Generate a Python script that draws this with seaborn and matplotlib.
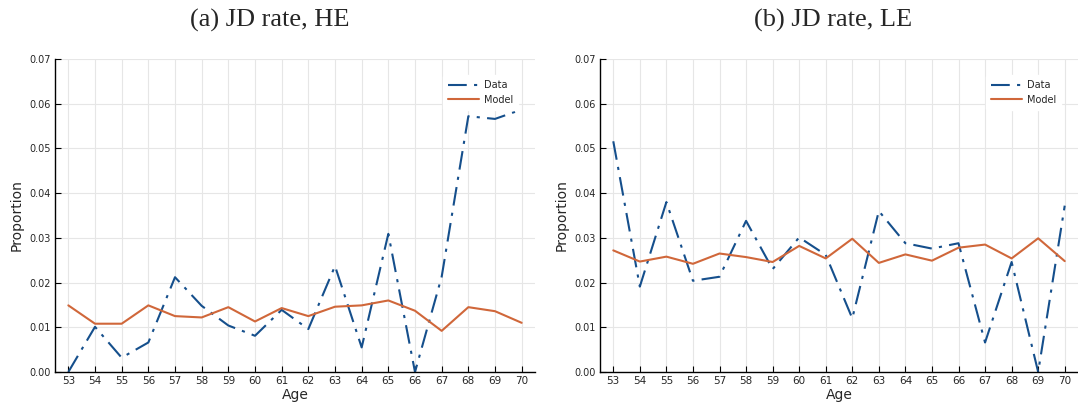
import numpy as np
import pandas as pd
import matplotlib
matplotlib.use("Agg")
import matplotlib.pyplot as plt
import seaborn as sns

ages = list(range(53, 71))
he_data = [0.0000, 0.0101, 0.0032, 0.0066, 0.0212, 0.0148, 0.0104, 0.0081, 0.0139, 0.0096,
           0.0237, 0.0055, 0.0309, 0.0000, 0.0213, 0.0572, 0.0566, 0.0587]
he_model = [0.0149, 0.0108, 0.0108, 0.0149, 0.0125, 0.0122, 0.0145, 0.0113, 0.0143, 0.0125,
            0.0146, 0.0149, 0.0160, 0.0137, 0.0092, 0.0145, 0.0136, 0.0110]
le_data = [0.0516, 0.0191, 0.0380, 0.0204, 0.0213, 0.0338, 0.0230, 0.0301, 0.0262, 0.0120,
           0.0360, 0.0288, 0.0276, 0.0288, 0.0066, 0.0246, 0.0000, 0.0372]
le_model = [0.0272, 0.0247, 0.0258, 0.0242, 0.0265, 0.0257, 0.0246, 0.0282, 0.0254, 0.0298,
            0.0244, 0.0263, 0.0249, 0.0278, 0.0285, 0.0254, 0.0299, 0.0248]
titles = ["(a) JD rate, HE", "(b) JD rate, LE"]
yticks = [0.00, 0.01, 0.02, 0.03, 0.04, 0.05, 0.06, 0.07]

sns.set_theme(style="white")
plt.rcParams['font.family'] = ['DejaVu Sans']

BLUE = "#154f8c"
ORANGE = "#d0673a"

fig = plt.figure(figsize=(10.78, 4.12), dpi=100)
W, H = 1078, 412
axes = [fig.add_axes([55 / W, 40 / H, 480 / W, 313 / H]),
        fig.add_axes([600 / W, 40 / H, 478 / W, 313 / H])]
title_x = [270 / W, 833 / W]

panels = [(he_data, he_model), (le_data, le_model)]
for ax, (d, m), title, tx in zip(axes, panels, titles, title_x):
    df_d = pd.DataFrame({"Age": ages, "Proportion": d})
    df_m = pd.DataFrame({"Age": ages, "Proportion": m})
    sns.lineplot(data=df_d, x="Age", y="Proportion", ax=ax, color=BLUE, lw=1.5,
                 label="Data")
    ax.lines[-1].set_linestyle((0, (9, 3.5, 1.5, 3.5)))
    sns.lineplot(data=df_m, x="Age", y="Proportion", ax=ax, color=ORANGE, lw=1.5,
                 label="Model")
    ax.set_xlim(52.5, 70.5)
    ax.set_ylim(0, 0.07)
    ax.set_xticks(ages)
    ax.set_xticklabels([str(a) for a in ages], fontsize=7.5)
    ax.set_yticks(yticks)
    ax.set_yticklabels([f"{v:.2f}" for v in yticks], fontsize=7)
    ax.grid(True, color="#e6e6e6", lw=0.8)
    ax.set_axisbelow(True)
    for s in ["top", "right"]:
        ax.spines[s].set_visible(False)
    for s in ["left", "bottom"]:
        ax.spines[s].set_color("black")
        ax.spines[s].set_linewidth(1.0)
    ax.tick_params(axis="both", direction="in", length=4, width=0.8, color="black",
                   left=True, bottom=True, pad=3)
    ax.set_xlabel("Age", fontsize=10, labelpad=1)
    ax.set_ylabel("Proportion", fontsize=10, labelpad=4)
    leg = ax.legend(loc="upper right", bbox_to_anchor=(0.975, 0.963), fontsize=7,
                    frameon=True, handlelength=3.2, handletextpad=0.5,
                    borderpad=0.5, labelspacing=0.45)
    leg.get_frame().set_edgecolor("white")
    leg.get_frame().set_facecolor("white")
    leg.get_frame().set_alpha(1)
    fig.text(tx, 1 - 20 / H, title, ha="center", va="center", fontsize=19,
             family=["Liberation Serif", "DejaVu Serif"])

fig.savefig("out.png", dpi=100)
